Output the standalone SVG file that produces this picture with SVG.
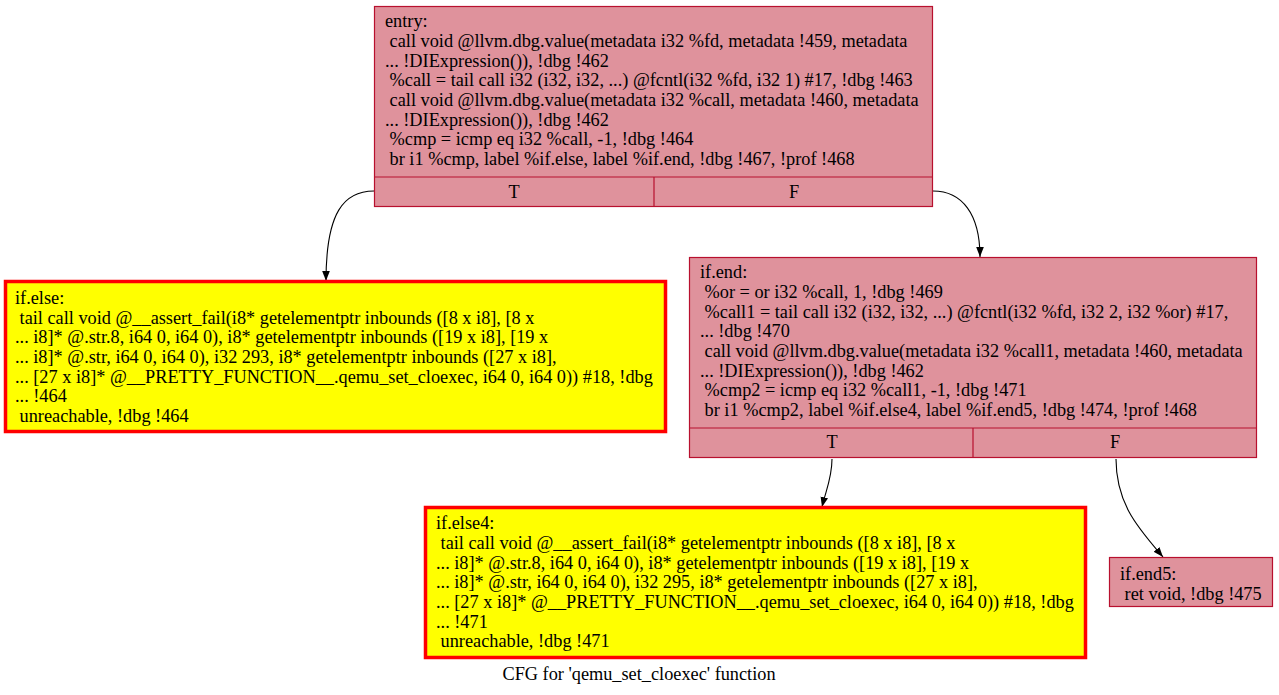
<svg xmlns="http://www.w3.org/2000/svg" width="1279" height="695" viewBox="0 0 1279 695">
<style>
  text { font-family: "Liberation Serif", "Times New Roman", serif; font-size: 18.3px; fill: #000; }
  .pink { fill: #df929c; stroke: #b8102e; stroke-width: 1.2; }
  .hot { fill: #ffff00; stroke: #ff0000; stroke-width: 3.5; }
  .sep { stroke: #b8102e; stroke-width: 1.2; fill: none; }
  .edge { fill: none; stroke: #000; stroke-width: 1.1; }
  .mid { text-anchor: middle; }
</style>
<defs>
  <marker id="arrow" viewBox="0 0 10 10" refX="10" refY="5" markerWidth="10" markerHeight="10" markerUnits="userSpaceOnUse" orient="auto">
    <path d="M0,1.2 L10,5 L0,8.8 z" fill="#000"/>
  </marker>
</defs>
<rect width="1279" height="695" fill="#fff"/>

<g id="edges">
  <path class="edge" marker-end="url(#arrow)" d="M374,191 C344,191 326,212 326,281"/>
  <path class="edge" marker-end="url(#arrow)" d="M933,191 C962,191 980,214 980,257"/>
  <path class="edge" marker-end="url(#arrow)" d="M832,459 C832,478 826,490 822,507"/>
  <path class="edge" marker-end="url(#arrow)" d="M1116,459 C1116,505 1140,530 1163,557"/>
</g>

<g id="entry">
  <rect class="pink" x="374.5" y="6.5" width="558" height="200"/>
  <line class="sep" x1="374.5" y1="177" x2="932.5" y2="177"/>
  <line class="sep" x1="654" y1="177" x2="654" y2="206.5"/>
  <text x="385" y="27">entry:</text>
  <text x="385" y="47" xml:space="preserve"> call void @llvm.dbg.value(metadata i32 %fd, metadata !459, metadata</text>
  <text x="385" y="67">... !DIExpression()), !dbg !462</text>
  <text x="385" y="86" xml:space="preserve"> %call = tail call i32 (i32, i32, ...) @fcntl(i32 %fd, i32 1) #17, !dbg !463</text>
  <text x="385" y="106" xml:space="preserve"> call void @llvm.dbg.value(metadata i32 %call, metadata !460, metadata</text>
  <text x="385" y="126">... !DIExpression()), !dbg !462</text>
  <text x="385" y="145" xml:space="preserve"> %cmp = icmp eq i32 %call, -1, !dbg !464</text>
  <text x="385" y="165" xml:space="preserve"> br i1 %cmp, label %if.else, label %if.end, !dbg !467, !prof !468</text>
  <text class="mid" x="514" y="198">T</text>
  <text class="mid" x="794" y="198">F</text>
</g>

<g id="if.else">
  <rect class="hot" x="5.5" y="281.5" width="660" height="150"/>
  <text x="15" y="304">if.else:</text>
  <text x="15" y="324" xml:space="preserve"> tail call void @__assert_fail(i8* getelementptr inbounds ([8 x i8], [8 x</text>
  <text x="15" y="343">... i8]* @.str.8, i64 0, i64 0), i8* getelementptr inbounds ([19 x i8], [19 x</text>
  <text x="15" y="363">... i8]* @.str, i64 0, i64 0), i32 293, i8* getelementptr inbounds ([27 x i8],</text>
  <text x="15" y="383">... [27 x i8]* @__PRETTY_FUNCTION__.qemu_set_cloexec, i64 0, i64 0)) #18, !dbg</text>
  <text x="15" y="402">... !464</text>
  <text x="15" y="422" xml:space="preserve"> unreachable, !dbg !464</text>
</g>

<g id="if.end">
  <rect class="pink" x="689.5" y="257.5" width="567" height="200"/>
  <line class="sep" x1="689.5" y1="428" x2="1256.5" y2="428"/>
  <line class="sep" x1="973" y1="428" x2="973" y2="457.5"/>
  <text x="700" y="278">if.end:</text>
  <text x="700" y="298" xml:space="preserve"> %or = or i32 %call, 1, !dbg !469</text>
  <text x="700" y="318" xml:space="preserve"> %call1 = tail call i32 (i32, i32, ...) @fcntl(i32 %fd, i32 2, i32 %or) #17,</text>
  <text x="700" y="337">... !dbg !470</text>
  <text x="700" y="357" xml:space="preserve"> call void @llvm.dbg.value(metadata i32 %call1, metadata !460, metadata</text>
  <text x="700" y="377">... !DIExpression()), !dbg !462</text>
  <text x="700" y="396" xml:space="preserve"> %cmp2 = icmp eq i32 %call1, -1, !dbg !471</text>
  <text x="700" y="416" xml:space="preserve"> br i1 %cmp2, label %if.else4, label %if.end5, !dbg !474, !prof !468</text>
  <text class="mid" x="832" y="448">T</text>
  <text class="mid" x="1115" y="448">F</text>
</g>

<g id="if.else4">
  <rect class="hot" x="425.5" y="507.5" width="660" height="150"/>
  <text x="436" y="529">if.else4:</text>
  <text x="436" y="549" xml:space="preserve"> tail call void @__assert_fail(i8* getelementptr inbounds ([8 x i8], [8 x</text>
  <text x="436" y="569">... i8]* @.str.8, i64 0, i64 0), i8* getelementptr inbounds ([19 x i8], [19 x</text>
  <text x="436" y="588">... i8]* @.str, i64 0, i64 0), i32 295, i8* getelementptr inbounds ([27 x i8],</text>
  <text x="436" y="608">... [27 x i8]* @__PRETTY_FUNCTION__.qemu_set_cloexec, i64 0, i64 0)) #18, !dbg</text>
  <text x="436" y="628">... !471</text>
  <text x="436" y="647" xml:space="preserve"> unreachable, !dbg !471</text>
</g>

<g id="if.end5">
  <rect class="pink" x="1109.5" y="557.5" width="163" height="49"/>
  <text x="1120" y="580">if.end5:</text>
  <text x="1120" y="600" xml:space="preserve"> ret void, !dbg !475</text>
</g>

<text class="mid" x="639" y="680">CFG for 'qemu_set_cloexec' function</text>
</svg>
